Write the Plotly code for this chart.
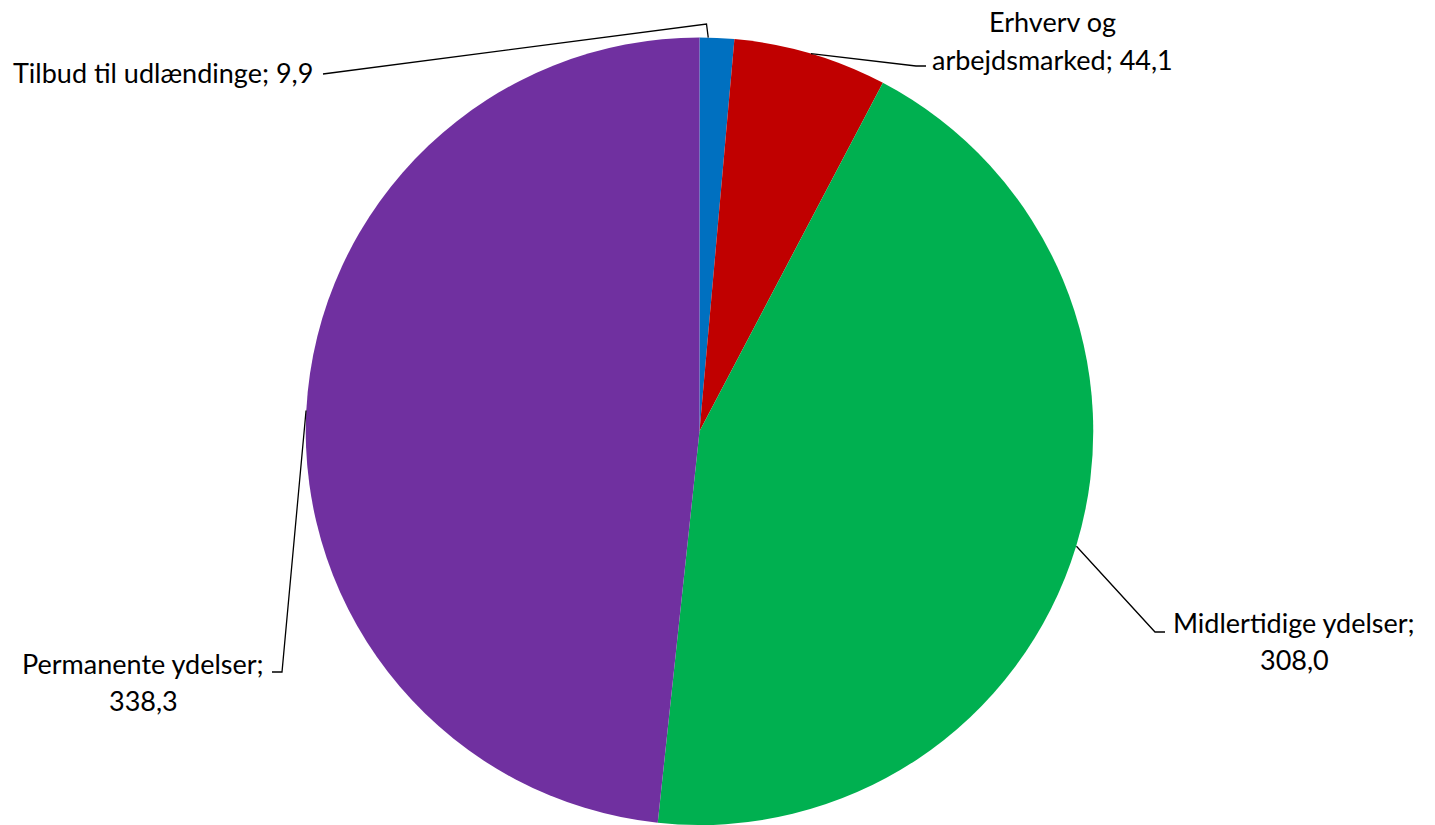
import math
import plotly.graph_objects as go

# ---- data ----
categories = ["Tilbud til udlændinge", "Erhverv og arbejdsmarked",
              "Midlertidige ydelser", "Permanente ydelser"]
values = [9.9, 44.1, 308.0, 338.3]
value_labels = ["9,9", "44,1", "308,0", "338,3"]
colors = ["#0070C0", "#C00000", "#00B050", "#7030A0"]

# ---- layout (pixels) ----
W, H = 1435, 825
CX, CY, R = 699.5, 431.5, 394.0
# label text lines (split as in the reference)
label_lines = [
    ["Tilbud til udlændinge; 9,9"],
    ["Erhverv og", "arbejdsmarked; 44,1"],
    ["Midlertidige ydelser;", "308,0"],
    ["Permanente ydelser;", "338,3"],
]
# label anchor position (px), anchor type
label_pos = [(315, 72, "right"), (1052, 22, "center"), (1294, 622, "center"), (143, 663, "center")]
line_step = 37
# leader line: fraction within slice for anchor, elbow point, end point (px)
anchor_frac = [0.25, 0.5, 0.5, 0.5]
elbows = [(706.5, 24), (916, 66), (1155, 632), (282, 672)]
ends = [(323, 74), (926, 66), (1165, 632), (272, 672)]

FONT = "Lato"
FS = 27


def px(x, y):
    return x / W, 1 - y / H


fig = go.Figure(go.Pie(
    labels=categories, values=values, sort=False, direction="clockwise",
    rotation=0, marker=dict(colors=colors, line=dict(width=0)),
    textinfo="none", hoverinfo="label+value", showlegend=False,
    domain=dict(x=[(CX - R) / W, (CX + R) / W], y=[max(0, 1 - (CY + R) / H), 1 - (CY - R) / H]),
))

total = sum(values)
cum = 0.0
shapes = []
annotations = []
for i, v in enumerate(values):
    frac = (cum + v * anchor_frac[i]) / total
    cum += v
    ang = 2 * math.pi * frac
    ax = CX + R * math.sin(ang)
    ay = CY - R * math.cos(ang)
    pts = [(ax, ay), elbows[i], ends[i]]
    path = "M " + " L ".join(f"{px(x, y)[0]},{px(x, y)[1]}" for x, y in pts)
    shapes.append(dict(type="path", xref="paper", yref="paper", path=path,
                       line=dict(color="black", width=1.3)))
    lx, ly, anc = label_pos[i]
    for j, t in enumerate(label_lines[i]):
        x, y = px(lx, ly + j * line_step)
        annotations.append(dict(text=t, x=x, y=y, xref="paper", yref="paper",
                                xanchor=anc, yanchor="middle", showarrow=False,
                                font=dict(family=FONT, size=FS, color="black")))

fig.update_layout(
    width=W, height=H, margin=dict(l=0, r=0, t=0, b=0),
    paper_bgcolor="white", plot_bgcolor="white",
    shapes=shapes, annotations=annotations,
)
fig.write_html("out.html", config={"displayModeBar": False},
               post_script="document.body.style.margin='0';document.body.style.overflow='hidden';")
